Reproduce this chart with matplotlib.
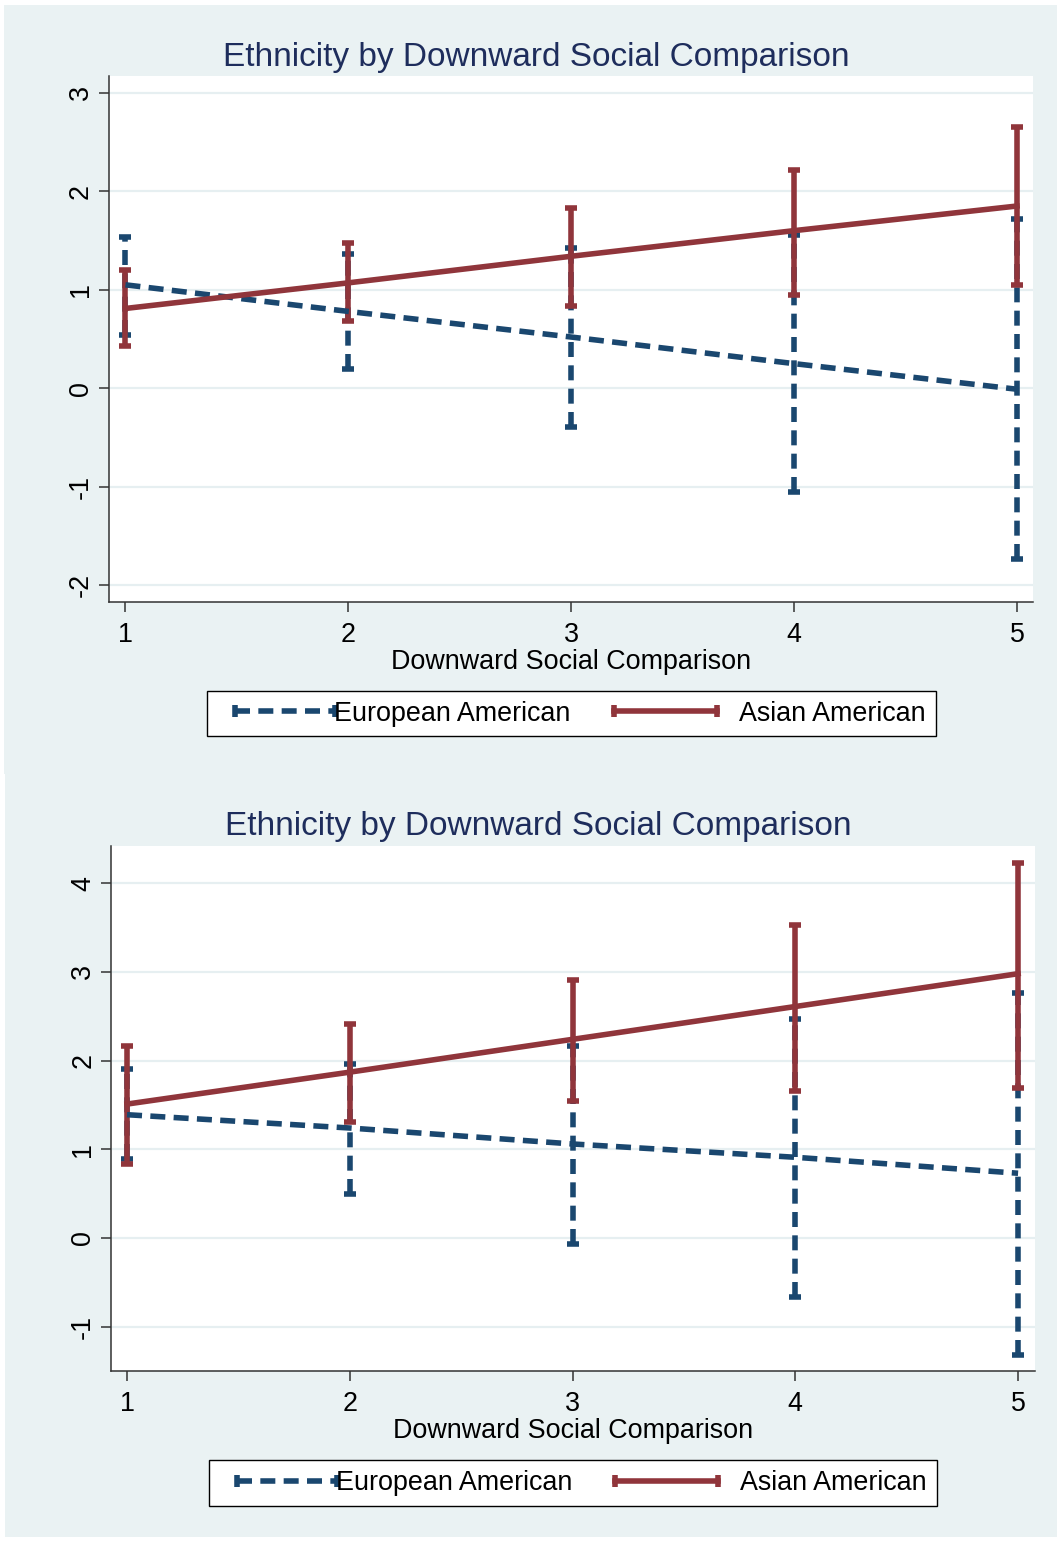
import numpy as np
import matplotlib
matplotlib.use("Agg")
import matplotlib.pyplot as plt
from matplotlib.patches import Rectangle
from matplotlib.lines import Line2D
from matplotlib.legend_handler import HandlerLine2D

plt.rcParams['font.family'] = ['Liberation Sans', 'DejaVu Sans']
plt.rcParams['axes.unicode_minus'] = False

# ---------------- data ----------------
title = "Ethnicity by Downward Social Comparison"
xlabel = "Downward Social Comparison"
series_names = ["European American", "Asian American"]
x_vals = [1, 2, 3, 4, 5]
x_ticklabels = ["1", "2", "3", "4", "5"]

# Panel 1
eu1_mid = [1.05, 0.78, 0.52, 0.25, -0.01]
eu1_lo = [0.54, 0.20, -0.39, -1.05, -1.73]
eu1_hi = [1.54, 1.36, 1.42, 1.56, 1.72]
as1_mid = [0.81, 1.07, 1.34, 1.60, 1.85]
as1_lo = [0.43, 0.68, 0.84, 0.95, 1.05]
as1_hi = [1.20, 1.47, 1.83, 2.22, 2.65]
y1_ticks = [-2, -1, 0, 1, 2, 3]

# Panel 2
eu2_mid = [1.39, 1.24, 1.06, 0.91, 0.73]
eu2_lo = [0.89, 0.50, -0.07, -0.67, -1.32]
eu2_hi = [1.91, 1.96, 2.17, 2.47, 2.76]
as2_mid = [1.51, 1.87, 2.24, 2.61, 2.98]
as2_lo = [0.83, 1.31, 1.55, 1.66, 1.69]
as2_hi = [2.17, 2.41, 2.91, 3.53, 4.23]
y2_ticks = [-1, 0, 1, 2, 3, 4]

# ---------------- style ----------------
W, H = 1057, 1541
BG = '#EAF2F3'
GRID = '#E6EFF1'
BLUE = '#1A476F'
RED = '#90353B'
TITLE_C = '#1E2D5C'
AXC = '#333333'
LW = 4.0
DASH = (2.7, 1.5)
FS = 19.4
CAP = 4.2

fig = plt.figure(figsize=(W / 100, H / 100), dpi=100, facecolor='white')


def px_rect(x0, y0, x1, y1):
    return [x0 / W, 1 - y1 / H, (x1 - x0) / W, (y1 - y0) / H]


class CapLineHandler(HandlerLine2D):
    """Legend line with separate left / right insets (in font-size units)."""

    def __init__(self, lpad, rpad, **kw):
        super().__init__(numpoints=2, **kw)
        self._lpad = lpad
        self._rpad = rpad

    def get_xdata(self, legend, xdescent, ydescent, width, height, fontsize):
        xd = np.linspace(-xdescent + self._lpad * fontsize,
                         width - self._rpad * fontsize, 2)
        return xd, xd


for (x0, y0, x1, y1) in [(4, 5, W, 774), (5, 774, W, 1537)]:
    r = px_rect(x0, y0, x1, y1)
    fig.patches.append(Rectangle((r[0], r[1]), r[2], r[3], transform=fig.transFigure,
                                 facecolor=BG, edgecolor='none', zorder=-10))

panels = [
    dict(rect=(108.5, 76, 1033, 602), xlim=(0.924, 5.072), ylim=(-2.17, 3.17),
         eu=(eu1_mid, eu1_lo, eu1_hi), asn=(as1_mid, as1_lo, as1_hi), yt=y1_ticks,
         title_xy=(536, 65.7), leg_box=(207, 688, 936, 739)),
    dict(rect=(111, 846, 1035, 1371), xlim=(0.928, 5.076), ylim=(-1.50, 4.42),
         eu=(eu2_mid, eu2_lo, eu2_hi), asn=(as2_mid, as2_lo, as2_hi), yt=y2_ticks,
         title_xy=(538, 835), leg_box=(209, 1458, 937, 1508)),
]

for p in panels:
    ax = fig.add_axes(px_rect(*p['rect']))
    ax.set_facecolor('white')
    ax.set_xlim(*p['xlim'])
    ax.set_ylim(*p['ylim'])
    for s in ['top', 'right']:
        ax.spines[s].set_visible(False)
    for s in ['left', 'bottom']:
        ax.spines[s].set_color(AXC)
        ax.spines[s].set_linewidth(1.1)
    ax.set_yticks(p['yt'], labels=[str(v) for v in p['yt']])
    ax.set_xticks(x_vals, labels=x_ticklabels)
    ax.yaxis.grid(True, color=GRID, lw=1.6)
    ax.set_axisbelow(True)
    ax.tick_params(direction='out', length=7.2, width=1.1, color=AXC, labelsize=FS,
                   labelcolor='black')
    ax.tick_params(axis='x', pad=7.0)
    ax.tick_params(axis='y', labelrotation=90, pad=3.5)
    plt.setp(ax.get_yticklabels(), va='center')

    mid, lo, hi = p['eu']
    eb = ax.errorbar(x_vals, mid, yerr=[[m - l for m, l in zip(mid, lo)],
                                        [h - m for m, h in zip(mid, hi)]],
                     fmt='none', ecolor=BLUE, elinewidth=LW, capsize=CAP, capthick=LW,
                     zorder=2)
    eb.lines[2][0].set_linestyle((0, DASH))

    mid2, lo2, hi2 = p['asn']
    ax.errorbar(x_vals, mid2, yerr=[[m - l for m, l in zip(mid2, lo2)],
                                    [h - m for m, h in zip(mid2, hi2)]],
                fmt='none', ecolor=RED, elinewidth=LW, capsize=CAP, capthick=LW,
                zorder=2.5)
    ax.plot(x_vals, mid, color=BLUE, lw=LW, dashes=DASH, zorder=3)
    ax.plot(x_vals, mid2, color=RED, lw=LW, zorder=4)

    ax.set_xlabel(xlabel, fontsize=FS, labelpad=1, color='black')

    tx, ty = p['title_xy']
    fig.text(tx / W, 1 - ty / H, title, ha='center', va='baseline', fontsize=24,
             color=TITLE_C)

    h_eu = Line2D([], [], color=BLUE, lw=LW, dashes=DASH, marker='|', ms=8, mew=LW)
    h_as = Line2D([], [], color=RED, lw=LW, marker='|', ms=8, mew=LW)
    bx0, by0, bx1, by1 = p['leg_box']
    leg = ax.legend([h_eu, h_as], series_names, ncol=2, loc='center', mode='expand',
                    bbox_to_anchor=(bx0 / W, 1 - by1 / H, (bx1 - bx0) / W, (by1 - by0) / H),
                    bbox_transform=fig.transFigure,
                    fontsize=FS, frameon=True, fancybox=False, edgecolor='black',
                    framealpha=1, borderpad=0.37, handlelength=4.35,
                    handletextpad=0.0, columnspacing=0.6, numpoints=2,
                    borderaxespad=0,
                    handler_map={h_eu: CapLineHandler(0.67, -0.04),
                                 h_as: CapLineHandler(-0.3, 0.82)})
    leg.get_frame().set_linewidth(1.0)
    leg.set_zorder(10)

fig.savefig('out.png', dpi=100, facecolor='white')
